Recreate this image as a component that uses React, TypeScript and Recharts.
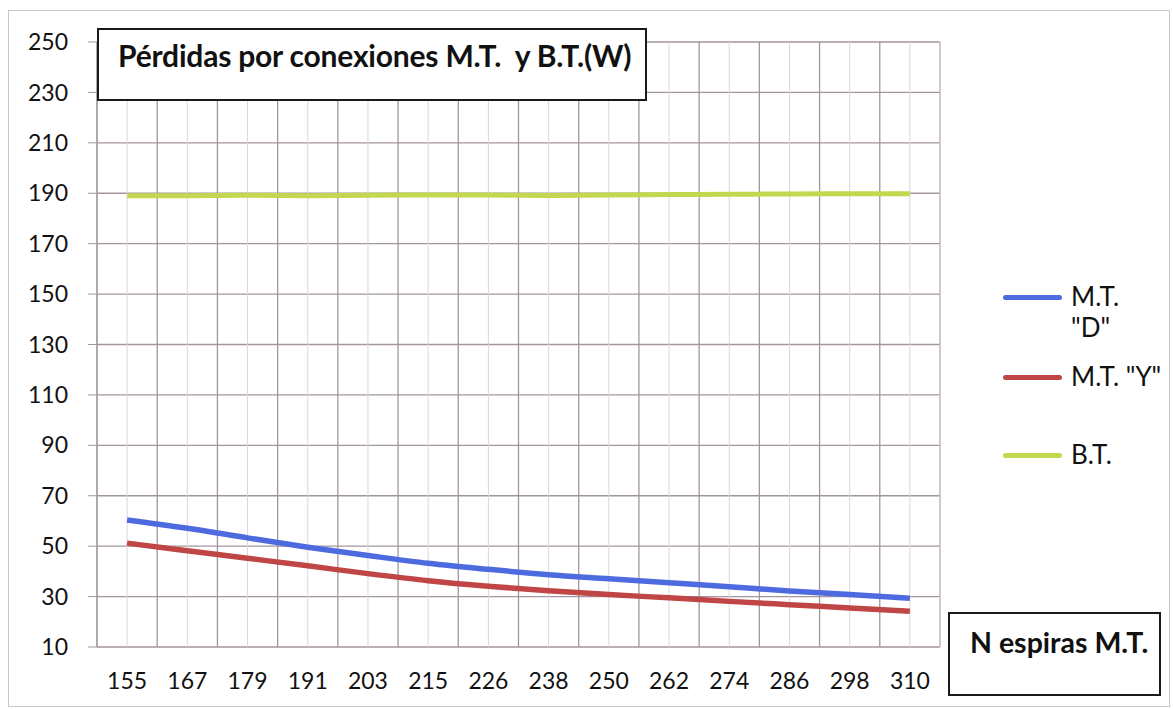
import { LineChart, Line, XAxis, YAxis, CartesianGrid } from 'recharts';

const espiras = ['155', '167', '179', '191', '203', '215', '226', '238', '250', '262', '274', '286', '298', '310'];
const mtD = [60.4, 57.1, 53.3, 49.6, 46.3, 43.2, 40.8, 38.7, 37.1, 35.5, 33.9, 32.2, 30.8, 29.3];
const mtY = [51.2, 48.2, 45.2, 42.2, 39.1, 36.3, 34.1, 32.3, 30.8, 29.5, 28.1, 26.8, 25.5, 24.2];
const bt = [189, 189, 189.2, 189, 189.2, 189.3, 189.3, 189.1, 189.3, 189.5, 189.6, 189.7, 189.8, 189.8];
const yTicks = [10, 30, 50, 70, 90, 110, 130, 150, 170, 190, 210, 230, 250];

const COLORS = {
  d: '#4D6BDF',
  y: '#C04646',
  bt: '#C4D84F',
  grid: '#A3959F',
  minor: '#DCD6DA',
};

const FONT = 'Lato, "Open Sans", sans-serif';

const data = espiras.map((label, i) => ({ idx: i, label, d: mtD[i], y: mtY[i], bt: bt[i] }));
const centers = espiras.map((_, i) => i);
const bounds = [...espiras.map((_, i) => i - 0.5), espiras.length - 0.5];

const legendItems = [
  { name: 'M.T. "D"', color: COLORS.d },
  { name: 'M.T. "Y"', color: COLORS.y },
  { name: 'B.T.', color: COLORS.bt },
];

export default function App() {
  return (
    <div style={{ position: 'absolute', left: 0, top: 0, width: 1173, height: 709, background: '#fff', fontFamily: FONT }}>
      <div style={{ position: 'absolute', left: 8, top: 10, width: 1160, height: 695, border: '1px solid #C8C8C8' }} />
      <LineChart width={1173} height={709} data={data} margin={{ top: 42, right: 233, bottom: 22, left: 37 }}>
        <CartesianGrid xAxisId="major" stroke={COLORS.grid} strokeWidth={1.3} />
        <CartesianGrid xAxisId="lab" horizontal={false} stroke={COLORS.minor} />
        <XAxis
          xAxisId="major"
          type="number"
          dataKey="idx"
          domain={[-0.5, espiras.length - 0.5]}
          ticks={bounds}
          tickFormatter={() => ''}
          tickSize={6}
          height={0}
          stroke={COLORS.grid}
          axisLine={{ stroke: COLORS.grid, strokeWidth: 1.3 }}
          tickLine={{ stroke: COLORS.grid }}
        />
        <XAxis
          xAxisId="lab"
          type="number"
          dataKey="idx"
          domain={[-0.5, espiras.length - 0.5]}
          ticks={centers}
          tickFormatter={(v: number) => espiras[v]}
          axisLine={false}
          tickLine={false}
          tickSize={0}
          tickMargin={26}
          height={40}
          tick={{ fontSize: 23, fill: '#111', fontFamily: FONT }}
        />
        <YAxis
          domain={[10, 250]}
          ticks={yTicks}
          width={60}
          tickSize={9}
          tickMargin={20}
          axisLine={{ stroke: COLORS.grid, strokeWidth: 1.3 }}
          tickLine={{ stroke: COLORS.grid }}
          tick={{ fontSize: 23, fill: '#111', fontFamily: FONT }}
        />
        <Line xAxisId="lab" type="monotone" dataKey="bt" stroke={COLORS.bt} strokeWidth={5} dot={false} isAnimationActive={false} />
        <Line xAxisId="lab" type="monotone" dataKey="y" stroke={COLORS.y} strokeWidth={5.5} dot={false} isAnimationActive={false} />
        <Line xAxisId="lab" type="monotone" dataKey="d" stroke={COLORS.d} strokeWidth={5.5} dot={false} isAnimationActive={false} />
      </LineChart>

      <div
        style={{
          position: 'absolute', left: 97, top: 28, width: 550, height: 73,
          border: '2px solid #1a1a1a', background: '#fff', boxSizing: 'border-box',
          paddingTop: 7, paddingLeft: 19,
          fontWeight: 700, fontSize: 30, color: '#111', whiteSpace: 'pre', letterSpacing: -0.2,
        }}
      >
        {'Pérdidas por conexiones M.T.  y B.T.(W)'}
      </div>

      <div
        style={{
          position: 'absolute', left: 948, top: 612, width: 213, height: 84,
          border: '2px solid #1a1a1a', background: '#fff', boxSizing: 'border-box',
          paddingTop: 11, paddingLeft: 20, fontWeight: 700, fontSize: 28.5, color: '#111', whiteSpace: 'pre',
        }}
      >
        N espiras M.T.
      </div>

      <div style={{ position: 'absolute', left: 1003, top: 283, width: 170 }}>
        {legendItems.map((it, i) => (
          <div key={it.name} style={{ display: 'flex', alignItems: 'flex-start', height: i === 0 ? 80 : 78 }}>
            <div style={{ width: 59, height: 5, borderRadius: 3, background: it.color, marginTop: 12, flexShrink: 0 }} />
            <div style={{ marginLeft: 9, width: i === 0 ? 70 : 110, fontSize: 26, lineHeight: '31px', color: '#111', marginTop: -2 }}>
              {it.name}
            </div>
          </div>
        ))}
      </div>
    </div>
  );
}
